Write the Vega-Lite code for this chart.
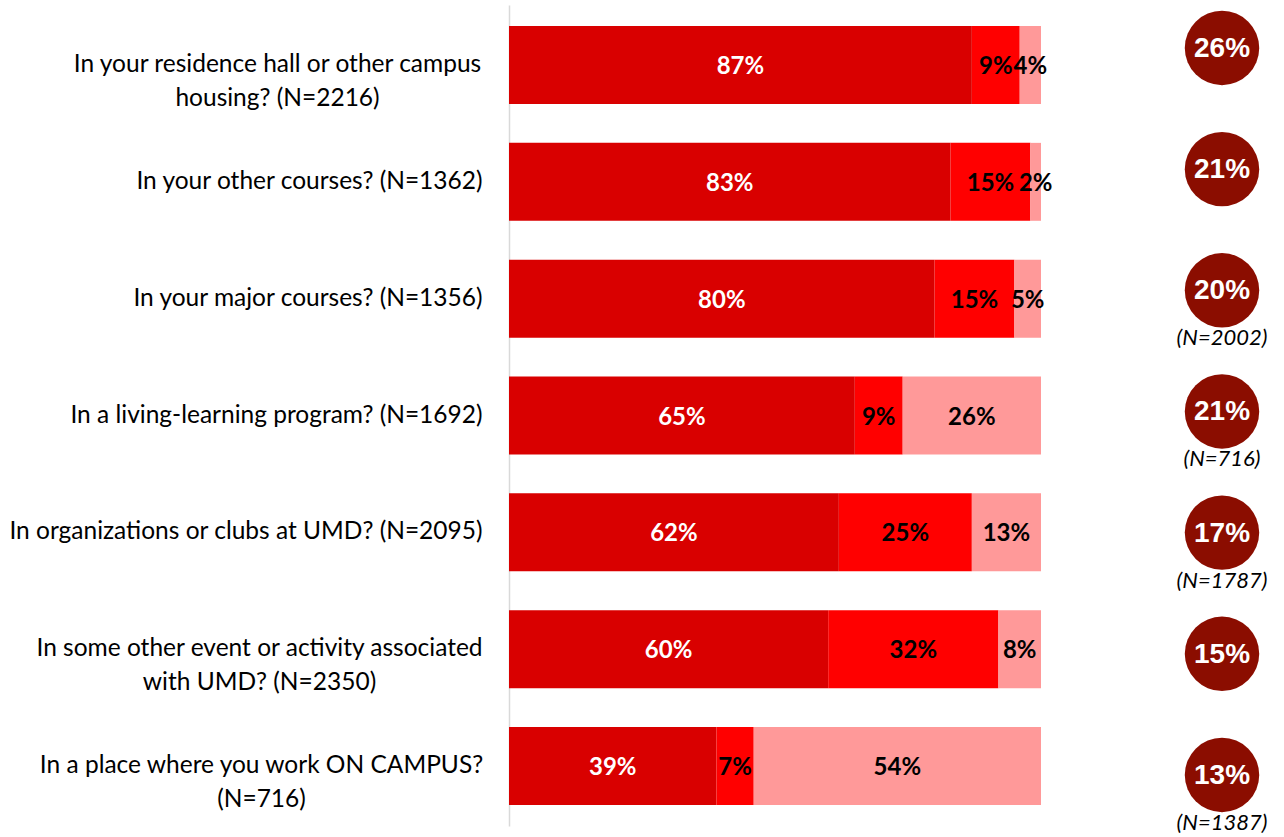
{
  "$schema": "https://vega.github.io/schema/vega-lite/v6.json",
  "padding": {"left": 8, "top": 5, "right": 0, "bottom": 0},
  "config": {"view": {"stroke": null}, "font": "Lato", "concat": {"spacing": 109}},
  "datasets": {
    "bars": [
      {"q": "In your residence hall or other campus|housing? (N=2216)", "seg": "a", "value": 0.87},
      {"q": "In your residence hall or other campus|housing? (N=2216)", "seg": "b", "value": 0.09},
      {"q": "In your residence hall or other campus|housing? (N=2216)", "seg": "c", "value": 0.04},
      {"q": "In your other courses? (N=1362)", "seg": "a", "value": 0.83},
      {"q": "In your other courses? (N=1362)", "seg": "b", "value": 0.15},
      {"q": "In your other courses? (N=1362)", "seg": "c", "value": 0.02},
      {"q": "In your major courses? (N=1356)", "seg": "a", "value": 0.80},
      {"q": "In your major courses? (N=1356)", "seg": "b", "value": 0.15},
      {"q": "In your major courses? (N=1356)", "seg": "c", "value": 0.05},
      {"q": "In a living-learning program? (N=1692)", "seg": "a", "value": 0.65},
      {"q": "In a living-learning program? (N=1692)", "seg": "b", "value": 0.09},
      {"q": "In a living-learning program? (N=1692)", "seg": "c", "value": 0.26},
      {"q": "In organizations or clubs at UMD? (N=2095)", "seg": "a", "value": 0.62},
      {"q": "In organizations or clubs at UMD? (N=2095)", "seg": "b", "value": 0.25},
      {"q": "In organizations or clubs at UMD? (N=2095)", "seg": "c", "value": 0.13},
      {"q": "In some other event or activity associated|with UMD? (N=2350)", "seg": "a", "value": 0.60},
      {"q": "In some other event or activity associated|with UMD? (N=2350)", "seg": "b", "value": 0.32},
      {"q": "In some other event or activity associated|with UMD? (N=2350)", "seg": "c", "value": 0.08},
      {"q": "In a place where you work ON CAMPUS?|(N=716)", "seg": "a", "value": 0.39},
      {"q": "In a place where you work ON CAMPUS?|(N=716)", "seg": "b", "value": 0.07},
      {"q": "In a place where you work ON CAMPUS?|(N=716)", "seg": "c", "value": 0.54}
    ],
    "circles": [
      {"q": "In your residence hall or other campus|housing? (N=2216)", "pct": 0.26, "n": ""},
      {"q": "In your other courses? (N=1362)", "pct": 0.21, "n": ""},
      {"q": "In your major courses? (N=1356)", "pct": 0.20, "n": "(N=2002)"},
      {"q": "In a living-learning program? (N=1692)", "pct": 0.21, "n": "(N=716)"},
      {"q": "In organizations or clubs at UMD? (N=2095)", "pct": 0.17, "n": "(N=1787)"},
      {"q": "In some other event or activity associated|with UMD? (N=2350)", "pct": 0.15, "n": ""},
      {"q": "In a place where you work ON CAMPUS?|(N=716)", "pct": 0.13, "n": "(N=1387)"}
    ]
  },
  "hconcat": [
    {
      "width": 532,
      "height": 821,
      "data": {"name": "bars"},
      "transform": [
        {"stack": "value", "groupby": ["q"], "sort": [{"field": "seg", "order": "ascending"}], "as": ["v0", "v1"]}
      ],
      "encoding": {
        "y": {
          "field": "q",
          "type": "nominal",
          "sort": null,
          "scale": {"paddingInner": 0.333, "paddingOuter": 0.18},
          "axis": {
            "title": null,
            "ticks": false,
            "domain": true,
            "domainColor": "#d9d9d9",
            "domainWidth": 1.5,
            "labelExpr": "split(datum.value, '|')",
            "labelFontSize": 24.5,
            "labelColor": "#000000",
            "labelLimit": 700,
            "labelLineHeight": 34,
            "labelAlign": {"condition": {"test": "indexof(datum.value, '|') >= 0", "value": "center"}, "value": "right"},
            "labelPadding": {
              "condition": [
                {"test": "indexof(datum.value, 'residence') >= 0", "value": 232},
                {"test": "indexof(datum.value, 'some other') >= 0", "value": 250},
                {"test": "indexof(datum.value, 'ON CAMPUS') >= 0", "value": 248}
              ],
              "value": 27
            },
            "minExtent": 499,
            "maxExtent": 499
          }
        }
      },
      "layer": [
        {
          "mark": {"type": "bar"},
          "encoding": {
            "x": {"field": "v0", "type": "quantitative", "scale": {"domain": [0, 1]}, "axis": null},
            "x2": {"field": "v1"},
            "color": {
              "field": "seg",
              "type": "nominal",
              "scale": {"domain": ["a", "b", "c"], "range": ["#d90000", "#ff0000", "#ff9999"]},
              "legend": null
            }
          }
        },
        {
          "transform": [{"fold": ["v0", "v1"], "as": ["edge", "pos"]}],
          "mark": {"type": "text", "fontWeight": "bold", "fontSize": 24, "dy": 2},
          "encoding": {
            "x": {"aggregate": "mean", "field": "pos", "type": "quantitative"},
            "detail": {"field": "seg", "type": "nominal"},
            "text": {"field": "value", "type": "quantitative", "format": ".0%"},
            "color": {"condition": {"test": "datum.seg === 'a'", "value": "#ffffff"}, "value": "#000000"}
          }
        }
      ]
    },
    {
      "width": 120,
      "height": 821,
      "data": {"name": "circles"},
      "encoding": {
        "y": {
          "field": "q",
          "type": "nominal",
          "sort": null,
          "scale": {"type": "point", "padding": 0.388, "align": 0.457},
          "axis": null
        }
      },
      "layer": [
        {
          "mark": {"type": "circle", "size": 5542, "color": "#8b0d00", "opacity": 1}
        },
        {
          "mark": {"type": "text", "fontWeight": "bold", "fontSize": 28, "color": "#ffffff", "font": "Liberation Sans", "dy": 1},
          "encoding": {"text": {"field": "pct", "type": "quantitative", "format": ".0%"}}
        },
        {
          "mark": {"type": "text", "fontStyle": "italic", "fontSize": 22, "color": "#000000", "dy": 48},
          "encoding": {"text": {"field": "n", "type": "nominal"}}
        }
      ]
    }
  ]
}
